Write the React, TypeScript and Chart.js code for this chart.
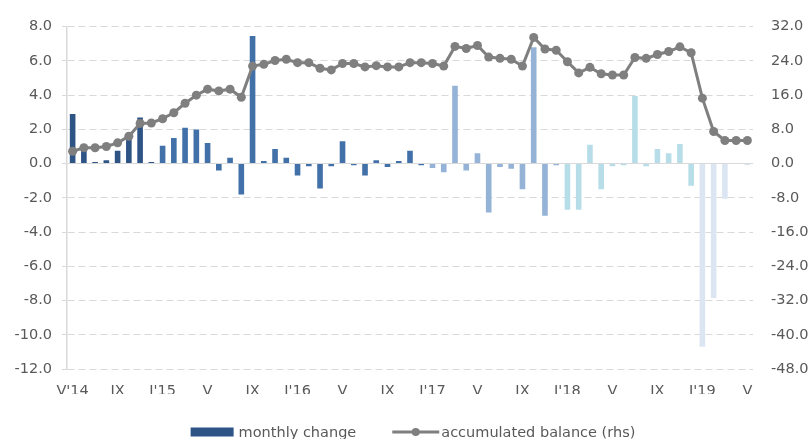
import React, { useEffect, useRef } from "react";
import { Chart, registerables } from "chart.js";

Chart.register(...registerables);

const monthLabels = [
  "V'14", "VI", "VII", "VIII", "IX", "X", "XI", "XII",
  "I'15", "II", "III", "IV", "V", "VI", "VII", "VIII", "IX", "X", "XI", "XII",
  "I'16", "II", "III", "IV", "V", "VI", "VII", "VIII", "IX", "X", "XI", "XII",
  "I'17", "II", "III", "IV", "V", "VI", "VII", "VIII", "IX", "X", "XI", "XII",
  "I'18", "II", "III", "IV", "V", "VI", "VII", "VIII", "IX", "X", "XI", "XII",
  "I'19", "II", "III", "IV", "V",
];

const monthYears = [
  2014, 2014, 2014, 2014, 2014, 2014, 2014, 2014,
  2015, 2015, 2015, 2015, 2015, 2015, 2015, 2015, 2015, 2015, 2015, 2015,
  2016, 2016, 2016, 2016, 2016, 2016, 2016, 2016, 2016, 2016, 2016, 2016,
  2017, 2017, 2017, 2017, 2017, 2017, 2017, 2017, 2017, 2017, 2017, 2017,
  2018, 2018, 2018, 2018, 2018, 2018, 2018, 2018, 2018, 2018, 2018, 2018,
  2019, 2019, 2019, 2019, 2019,
];

const monthlyChange = [
  2.9, 0.8, 0.1, 0.2, 0.75, 1.6, 2.7, 0.1,
  1.05, 1.5, 2.1, 2.0, 1.2, -0.4, 0.35, -1.8, 7.45, 0.15, 0.85, 0.35,
  -0.7, -0.15, -1.45, -0.15, 1.3, -0.1, -0.7, 0.2, -0.2, 0.15, 0.75, -0.1,
  -0.25, -0.5, 4.55, -0.4, 0.6, -2.85, -0.2, -0.3, -1.5, 6.8, -3.05, -0.1,
  -2.7, -2.7, 1.1, -1.5, -0.15, -0.1, 3.95, -0.15, 0.85, 0.6, 1.15, -1.3,
  -10.7, -7.85, -2.05, 0.0, -0.1,
];

const accumulatedBalance = [
  2.9, 3.7, 3.7, 4.0, 4.85, 6.4, 9.4, 9.5,
  10.5, 11.9, 14.1, 16.0, 17.4, 17.0, 17.4, 15.5, 22.8, 23.2, 24.1, 24.4,
  23.6, 23.6, 22.3, 21.9, 23.4, 23.4, 22.6, 22.9, 22.6, 22.6, 23.6, 23.6,
  23.4, 22.8, 27.4, 26.9, 27.6, 24.9, 24.6, 24.4, 22.8, 29.5, 26.8, 26.5,
  23.8, 21.2, 22.5, 21.0, 20.7, 20.7, 24.8, 24.6, 25.5, 26.2, 27.3, 25.9,
  15.3, 7.5, 5.4, 5.4, 5.4,
];

const leftTicks = [-12, -10, -8, -6, -4, -2, 0, 2, 4, 6, 8];
const rightTicks = [-48, -40, -32, -24, -16, -8, 0, 8, 16, 24, 32];

const yearColors: Record<number, string> = {
  2014: "#2E5486",
  2015: "#4270A8",
  2016: "#4270A8",
  2017: "#95B3D7",
  2018: "#B7DEE8",
  2019: "#DCE6F2",
};

const seriesNames = ["monthly change", "accumulated balance (rhs)"];

const FONT = "'DejaVu Sans', sans-serif";
const TEXT = "#595959";
const GRID = "#D9D9D9";
const LINE = "#7F7F7F";

const legendPlugin = {
  id: "customLegend",
  afterDraw(chart: any) {
    const ctx = chart.ctx;
    const area = chart.chartArea;
    ctx.save();
    ctx.font = `14.5px ${FONT}`;
    ctx.textBaseline = "middle";
    ctx.fillStyle = TEXT;
    const w1 = ctx.measureText(seriesNames[0]).width;
    const w2 = ctx.measureText(seriesNames[1]).width;
    const total = 43 + 5 + w1 + 36 + 47 + 2 + w2;
    let x = (area.left + area.right) / 2 + 3 - total / 2;
    const y = 432;
    ctx.fillStyle = yearColors[2014];
    ctx.fillRect(x, y - 4.5, 43, 9);
    x += 48;
    ctx.fillStyle = TEXT;
    ctx.textAlign = "left";
    ctx.fillText(seriesNames[0], x, y + 1);
    x += w1 + 36;
    ctx.strokeStyle = LINE;
    ctx.lineWidth = 3;
    ctx.beginPath();
    ctx.moveTo(x, y);
    ctx.lineTo(x + 47, y);
    ctx.stroke();
    ctx.fillStyle = LINE;
    ctx.beginPath();
    ctx.arc(x + 23.5, y, 4, 0, Math.PI * 2);
    ctx.fill();
    x += 49;
    ctx.fillStyle = TEXT;
    ctx.fillText(seriesNames[1], x, y + 1);
    ctx.restore();
  },
};

export default function App() {
  const ref = useRef<HTMLCanvasElement | null>(null);

  useEffect(() => {
    if (!ref.current) return;
    const chart = new Chart(ref.current, {
      type: "bar",
      data: {
        labels: monthLabels,
        datasets: [
          {
            type: "line",
            label: seriesNames[1],
            data: accumulatedBalance,
            yAxisID: "y1",
            borderColor: LINE,
            backgroundColor: LINE,
            borderWidth: 3,
            pointRadius: 4.5,
            pointBackgroundColor: LINE,
            pointBorderWidth: 0,
            tension: 0,
            order: 0,
          } as any,
          {
            type: "bar",
            label: seriesNames[0],
            data: monthlyChange,
            yAxisID: "y",
            backgroundColor: monthYears.map((y) => yearColors[y]),
            borderWidth: 0,
            categoryPercentage: 1,
            barPercentage: 0.5,
            order: 1,
          } as any,
        ],
      },
      options: {
        responsive: false,
        animation: false,
        maintainAspectRatio: false,
        layout: { padding: { top: 23, left: 13, right: 0, bottom: 45 } },
        plugins: {
          legend: { display: false },
          tooltip: { enabled: false },
        },
        scales: {
          x: {
            grid: { display: false, drawTicks: false },
            border: { display: false },
            ticks: {
              autoSkip: false,
              maxRotation: 0,
              minRotation: 0,
              padding: 14,
              color: TEXT,
              font: { family: FONT, size: 14.5 },
              callback: (_v: any, i: number) => (i % 4 === 0 ? monthLabels[i] : ""),
            },
            afterFit: (s: any) => {
              s.height = 25;
            },
          },
          y: {
            position: "left",
            min: -12,
            max: 8,
            afterBuildTicks: (s: any) => {
              s.ticks = leftTicks.map((v) => ({ value: v }));
            },
            grid: {
              color: GRID,
              lineWidth: 1,
              tickLength: 5,
              drawTicks: true,
            },
            border: {
              display: true,
              color: GRID,
              width: 1.5,
              dash: (c: any) => (c.tick && c.tick.value === 0 ? [] : [7, 4]),
            },
            ticks: {
              color: TEXT,
              padding: 10,
              font: { family: FONT, size: 14.5 },
              callback: (v: any) => Number(v).toFixed(1),
            },
            afterFit: (s: any) => {
              s.width = 54;
            },
          },
          y1: {
            position: "right",
            min: -48,
            max: 32,
            afterBuildTicks: (s: any) => {
              s.ticks = rightTicks.map((v) => ({ value: v }));
            },
            grid: { display: false, drawTicks: false },
            border: { display: false },
            ticks: {
              color: TEXT,
              padding: 18,
              font: { family: FONT, size: 14.5 },
              callback: (v: any) => Number(v).toFixed(1),
            },
            afterFit: (s: any) => {
              s.width = 58;
            },
          },
        },
      },
      plugins: [legendPlugin],
    });
    return () => chart.destroy();
  }, []);

  return (
    <div style={{ position: "fixed", left: 0, top: 0, width: 811, height: 439, background: "#fff" }}>
      <canvas ref={ref} width={811} height={439} style={{ width: 811, height: 439 }} />
    </div>
  );
}
